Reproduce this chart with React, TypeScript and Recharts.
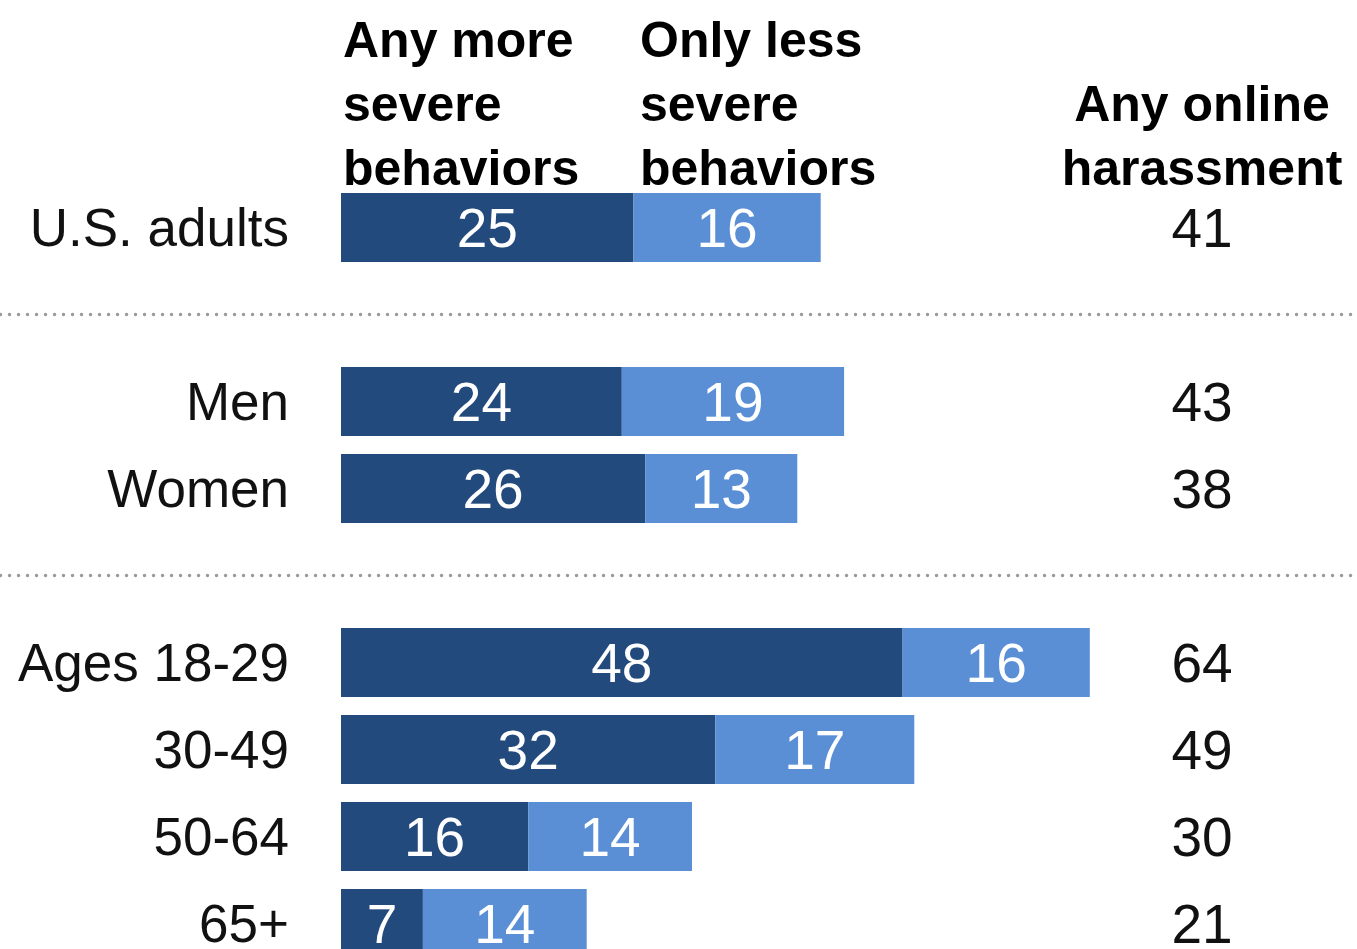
import { BarChart, Bar, XAxis, YAxis, LabelList, ReferenceLine } from "recharts";

// Rows of the chart; empty strings are the spacer rows that hold the dotted separators
const categories = ["U.S. adults", "", "Men", "Women", "", "Ages 18-29", "30-49", "50-64", "65+"];
const moreSevere = [25, null, 24, 26, null, 48, 32, 16, 7];
const lessSevere = [16, null, 19, 13, null, 16, 17, 14, 14];
const anyHarassment = [41, null, 43, 38, null, 64, 49, 30, 21];
const separatorRows = ["r1", "r4"];

const DARK = "#234a7c";
const LIGHT = "#5a8fd6";
const FONT = "'Liberation Sans', Arial, sans-serif";

const data = categories.map((label, i) => ({
  id: `r${i}`,
  label,
  more: moreSevere[i],
  less: lessSevere[i],
  total: anyHarassment[i],
}));

const TotalTick = (props: any) => {
  const { x, y, payload } = props;
  const row = data.find((d) => d.id === payload.value);
  if (!row || row.total == null) return null;
  return (
    <text x={x + 42} y={y} dy="0.355em" textAnchor="middle" fontSize={55} fill="#111" fontFamily={FONT}>
      {row.total}
    </text>
  );
};

const headerStyle: React.CSSProperties = {
  position: "absolute",
  fontFamily: FONT,
  fontWeight: 700,
  fontSize: 50,
  lineHeight: "64px",
  color: "#000",
  whiteSpace: "nowrap",
};

export default function App() {
  return (
    <div
      style={{
        position: "absolute",
        left: 0,
        top: 0,
        width: 1357,
        height: 949,
        overflow: "hidden",
        background: "#fff",
      }}
    >
      <div style={{ ...headerStyle, left: 343, top: 8 }}>
        Any more
        <br />
        severe
        <br />
        behaviors
      </div>
      <div style={{ ...headerStyle, left: 640, top: 8 }}>
        Only less
        <br />
        severe
        <br />
        behaviors
      </div>
      <div style={{ ...headerStyle, left: 1050, top: 72, width: 304, textAlign: "center" }}>
        Any online
        <br />
        harassment
      </div>

      <div style={{ position: "absolute", left: 0, top: 0 }}>
        <BarChart
          width={1357}
          height={970}
          data={data}
          layout="vertical"
          margin={{ top: 184, right: 0, bottom: 3, left: 0 }}
        >
          <XAxis type="number" domain={[0, 70]} allowDataOverflow hide />
          <YAxis
            yAxisId="left"
            type="category"
            dataKey="id"
            width={341}
            axisLine={false}
            tickLine={false}
            tickSize={0}
            tickMargin={52}
            interval={0}
            tickFormatter={(v: string) => data.find((d) => d.id === v)?.label ?? ""}
            tick={{ fontSize: 53, fill: "#111", fontFamily: FONT }}
          />
          <YAxis
            yAxisId="right"
            orientation="right"
            type="category"
            dataKey="id"
            width={197}
            axisLine={false}
            tickLine={false}
            tickSize={0}
            tickMargin={0}
            interval={0}
            tick={<TotalTick />}
          />
          {separatorRows.map((r) => (
            <ReferenceLine
              key={r}
              yAxisId="left"
              segment={[
                { x: -29.1, y: r },
                { x: 86.5, y: r },
              ]}
              ifOverflow="visible"
              stroke="#9a9a9a"
              strokeWidth={3.5}
              strokeDasharray="0 9"
              strokeLinecap="round"
            />
          ))}
          <Bar yAxisId="left" dataKey="more" stackId="a" fill={DARK} barSize={69} isAnimationActive={false}>
            <LabelList dataKey="more" position="center" fill="#fff" fontSize={55} fontFamily={FONT} />
          </Bar>
          <Bar yAxisId="left" dataKey="less" stackId="a" fill={LIGHT} barSize={69} isAnimationActive={false}>
            <LabelList dataKey="less" position="center" fill="#fff" fontSize={55} fontFamily={FONT} />
          </Bar>
        </BarChart>
      </div>
    </div>
  );
}
